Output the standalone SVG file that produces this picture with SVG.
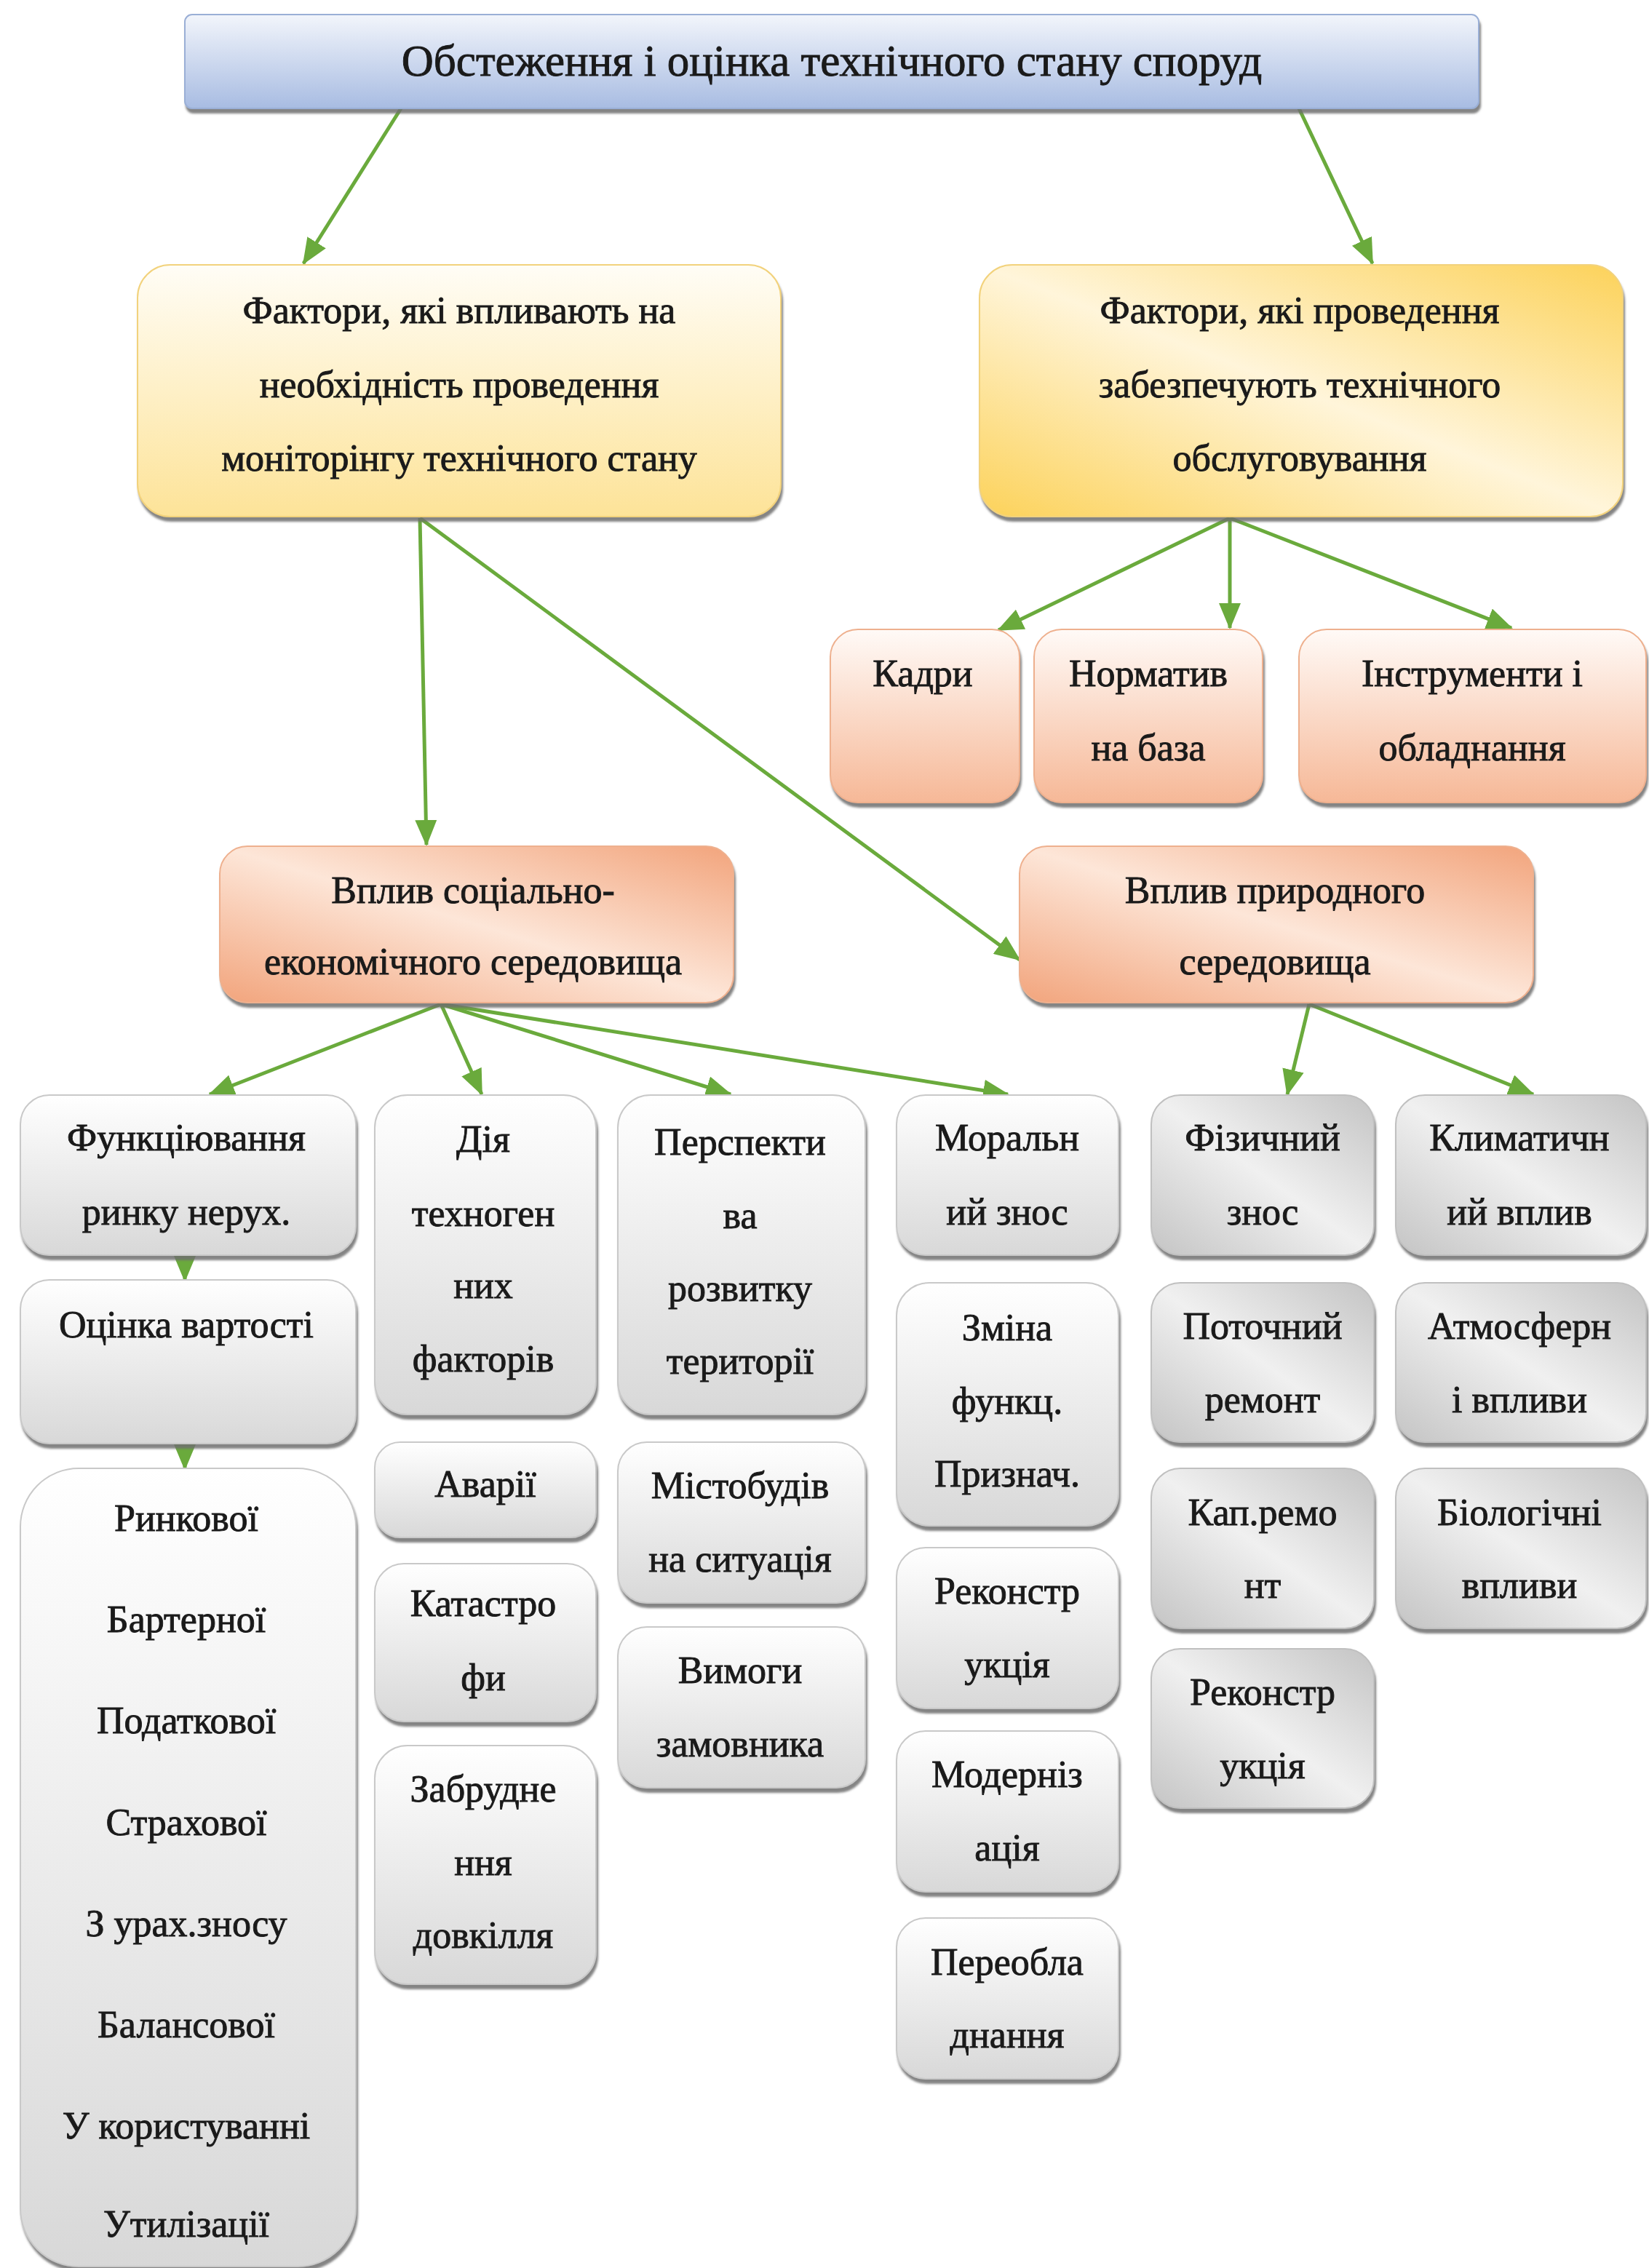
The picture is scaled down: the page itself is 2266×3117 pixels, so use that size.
<svg xmlns="http://www.w3.org/2000/svg" width="2266" height="3117" viewBox="0 0 2266 3117">
<defs>
<linearGradient id="gBlue" x1="0" y1="0" x2="0" y2="1"><stop offset="0" stop-color="#f2f5fb"/><stop offset="1" stop-color="#a8bce2"/></linearGradient>
<linearGradient id="gYelL" x1="0" y1="0" x2="0" y2="1"><stop offset="0" stop-color="#fffdf6"/><stop offset="1" stop-color="#fde398"/></linearGradient>
<linearGradient id="gYelR" x1="1" y1="0" x2="0" y2="1"><stop offset="0" stop-color="#fcd25a"/><stop offset="0.5" stop-color="#fff5da"/><stop offset="1" stop-color="#fcd25a"/></linearGradient>
<linearGradient id="gPeachD" x1="1" y1="0" x2="0" y2="1"><stop offset="0" stop-color="#f2a47c"/><stop offset="0.5" stop-color="#fde6d8"/><stop offset="1" stop-color="#f2a47c"/></linearGradient>
<linearGradient id="gPeachV" x1="0" y1="0" x2="0" y2="1"><stop offset="0" stop-color="#fffaf7"/><stop offset="1" stop-color="#f6b897"/></linearGradient>
<linearGradient id="gGrayV" x1="0" y1="0" x2="0" y2="1"><stop offset="0" stop-color="#ffffff"/><stop offset="1" stop-color="#d8d8d8"/></linearGradient>
<linearGradient id="gGrayD" x1="1" y1="0" x2="0" y2="1"><stop offset="0" stop-color="#c4c4c4"/><stop offset="0.5" stop-color="#f0f0f0"/><stop offset="1" stop-color="#c4c4c4"/></linearGradient>
<filter id="sh" x="-5%" y="-5%" width="110%" height="115%"><feDropShadow dx="2" dy="6" stdDeviation="1.5" flood-color="#6e6e6e" flood-opacity="0.85"/></filter>
<marker id="ah" markerUnits="userSpaceOnUse" markerWidth="36" markerHeight="30" viewBox="0 0 36 30" refX="34" refY="15" orient="auto"><path d="M0,0 L36,15 L0,30 Z" fill="#6aaa3c"/></marker>
</defs>
<style>
text{font-family:"Liberation Serif","Times New Roman",serif;font-size:52px;fill:#1a1a1a;stroke:#1a1a1a;stroke-width:0.9;text-anchor:middle;}
.t{font-size:61px;}
.c line{stroke:#6aaa3c;stroke-width:5;marker-end:url(#ah);}
rect{filter:url(#sh);stroke-width:2;}
.blue{fill:url(#gBlue);stroke:#9aafd6;}
.yl{fill:url(#gYelL);stroke:#f2d27c;}
.yr{fill:url(#gYelR);stroke:#f2d27c;}
.pd{fill:url(#gPeachD);stroke:#eeb08e;}
.pv{fill:url(#gPeachV);stroke:#eeb08e;}
.gv{fill:url(#gGrayV);stroke:#c9c9c9;}
.gd{fill:url(#gGrayD);stroke:#c0c0c0;}
</style>
<rect width="2266" height="3117" fill="#ffffff" style="filter:none;stroke:none"/>

<g class="c">
<line x1="551" y1="149" x2="417" y2="362"/>
<line x1="1785" y1="149" x2="1886" y2="362"/>
<line x1="1690" y1="712" x2="1372" y2="866"/>
<line x1="1690" y1="712" x2="1690" y2="863"/>
<line x1="1690" y1="712" x2="2077" y2="863"/>
<line x1="577" y1="712" x2="586" y2="1161"/>
<line x1="577" y1="712" x2="1401" y2="1319"/>
<line x1="606" y1="1380" x2="288" y2="1504"/>
<line x1="606" y1="1380" x2="662" y2="1504"/>
<line x1="606" y1="1380" x2="1004" y2="1504"/>
<line x1="606" y1="1380" x2="1385" y2="1504"/>
<line x1="1799" y1="1380" x2="1769" y2="1504"/>
<line x1="1799" y1="1380" x2="2107" y2="1504"/>
<line x1="254" y1="1730" x2="254" y2="1760"/>
<line x1="254" y1="1988" x2="254" y2="2019"/>
</g>

<g id="n-title"><rect class="blue" x="254" y="20" width="1778" height="129" rx="10"/><text class="t" x="1143" y="104">Обстеження і оцінка технічного стану споруд</text></g>

<g id="n-factors1"><rect class="yl" x="189" y="364" width="884" height="346" rx="45"/>
<text x="631" y="444">Фактори, які впливають на</text><text x="631" y="546">необхідність проведення</text><text x="631" y="647">моніторінгу технічного стану</text></g>

<g id="n-factors2"><rect class="yr" x="1346" y="364" width="884" height="346" rx="45"/>
<text x="1786" y="444">Фактори, які проведення</text><text x="1786" y="546">забезпечують технічного</text><text x="1786" y="647">обслуговування</text></g>

<g id="n-kadry"><rect class="pv" x="1141" y="865" width="260" height="238" rx="38"/><text x="1268" y="943">Кадри</text></g>
<g id="n-normbase"><rect class="pv" x="1421" y="865" width="314" height="238" rx="38"/><text x="1578" y="943">Норматив</text><text x="1578" y="1045">на база</text></g>
<g id="n-tools"><rect class="pv" x="1785" y="865" width="477" height="238" rx="38"/><text x="2023" y="943">Інструменти і</text><text x="2023" y="1045">обладнання</text></g>

<g id="n-social"><rect class="pd" x="302" y="1163" width="706" height="215" rx="38"/><text x="650" y="1241">Вплив соціально-</text><text x="650" y="1339">економічного середовища</text></g>
<g id="n-nature"><rect class="pd" x="1401" y="1163" width="706" height="215" rx="38"/><text x="1752" y="1241">Вплив природного</text><text x="1752" y="1339">середовища</text></g>

<g id="n-market"><rect class="gv" x="28" y="1505" width="461" height="220" rx="40"/><text x="256" y="1581">Функціювання</text><text x="256" y="1683">ринку нерух.</text></g>
<g id="n-valuation"><rect class="gv" x="28" y="1759" width="461" height="225" rx="40"/><text x="256" y="1838">Оцінка вартості</text></g>
<g id="n-types"><rect class="gv" x="28" y="2018" width="461" height="1097" rx="80"/>
<text x="256" y="2104">Ринкової</text><text x="256" y="2243">Бартерної</text><text x="256" y="2382">Податкової</text><text x="256" y="2522">Страхової</text><text x="256" y="2661">З урах.зносу</text><text x="256" y="2800">Балансової</text><text x="256" y="2939">У користуванні</text><text x="256" y="3074">Утилізації</text></g>

<g id="n-tech"><rect class="gv" x="515" y="1505" width="304" height="439" rx="45"/><text x="664" y="1583">Дія</text><text x="664" y="1685">техноген</text><text x="664" y="1784">них</text><text x="664" y="1885">факторів</text></g>
<g id="n-accidents"><rect class="gv" x="515" y="1982" width="304" height="131" rx="35"/><text x="667" y="2057">Аварії</text></g>
<g id="n-catastrophes"><rect class="gv" x="515" y="2149" width="304" height="217" rx="40"/><text x="664" y="2221">Катастро</text><text x="664" y="2323">фи</text></g>
<g id="n-pollution"><rect class="gv" x="515" y="2399" width="304" height="328" rx="45"/><text x="664" y="2476">Забрудне</text><text x="664" y="2577">ння</text><text x="664" y="2677">довкілля</text></g>

<g id="n-perspective"><rect class="gv" x="849" y="1505" width="340" height="439" rx="45"/><text x="1017" y="1587">Перспекти</text><text x="1017" y="1688">ва</text><text x="1017" y="1788">розвитку</text><text x="1017" y="1888">території</text></g>
<g id="n-urban"><rect class="gv" x="849" y="1982" width="340" height="221" rx="40"/><text x="1017" y="2059">Містобудів</text><text x="1017" y="2160">на ситуація</text></g>
<g id="n-customer"><rect class="gv" x="849" y="2236" width="340" height="221" rx="40"/><text x="1017" y="2313">Вимоги</text><text x="1017" y="2414">замовника</text></g>

<g id="n-moral"><rect class="gv" x="1232" y="1505" width="305" height="220" rx="40"/><text x="1384" y="1581">Моральн</text><text x="1384" y="1683">ий знос</text></g>
<g id="n-function"><rect class="gv" x="1232" y="1763" width="305" height="334" rx="45"/><text x="1384" y="1842">Зміна</text><text x="1384" y="1943">функц.</text><text x="1384" y="2043">Признач.</text></g>
<g id="n-recon1"><rect class="gv" x="1232" y="2127" width="305" height="221" rx="40"/><text x="1384" y="2204">Реконстр</text><text x="1384" y="2305">укція</text></g>
<g id="n-modern"><rect class="gv" x="1232" y="2379" width="305" height="221" rx="40"/><text x="1384" y="2456">Модерніз</text><text x="1384" y="2557">ація</text></g>
<g id="n-reequip"><rect class="gv" x="1232" y="2636" width="305" height="221" rx="40"/><text x="1384" y="2714">Переобла</text><text x="1384" y="2814">днання</text></g>

<g id="n-physical"><rect class="gd" x="1582" y="1505" width="306" height="220" rx="40"/><text x="1735" y="1581">Фізичний</text><text x="1735" y="1683">знос</text></g>
<g id="n-current"><rect class="gd" x="1582" y="1763" width="306" height="219" rx="40"/><text x="1735" y="1840">Поточний</text><text x="1735" y="1941">ремонт</text></g>
<g id="n-capital"><rect class="gd" x="1582" y="2018" width="306" height="220" rx="40"/><text x="1735" y="2096">Кап.ремо</text><text x="1735" y="2196">нт</text></g>
<g id="n-recon2"><rect class="gd" x="1582" y="2266" width="306" height="219" rx="40"/><text x="1735" y="2343">Реконстр</text><text x="1735" y="2444">укція</text></g>

<g id="n-climate"><rect class="gd" x="1918" y="1505" width="344" height="220" rx="40"/><text x="2088" y="1581">Климатичн</text><text x="2088" y="1683">ий вплив</text></g>
<g id="n-atmos"><rect class="gd" x="1918" y="1763" width="344" height="219" rx="40"/><text x="2088" y="1840">Атмосферн</text><text x="2088" y="1941">і впливи</text></g>
<g id="n-bio"><rect class="gd" x="1918" y="2018" width="344" height="220" rx="40"/><text x="2088" y="2096">Біологічні</text><text x="2088" y="2196">впливи</text></g>
</svg>
